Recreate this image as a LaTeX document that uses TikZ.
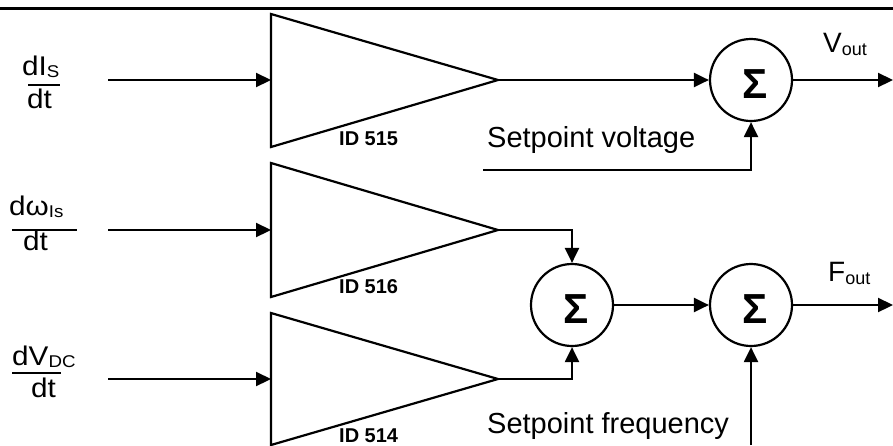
\documentclass[tikz,border=0pt]{standalone}
\usepackage{fontspec}
\usepackage{graphicx}
\setmainfont{Liberation Sans}
\usetikzlibrary{arrows.meta}
\newcommand\fsz[1]{\fontsize{#1}{#1}\selectfont}
\newcommand\hstr[1]{\scalebox{1.1}[1]{#1}}
\newcommand\sbs[1]{\raisebox{-2pt}{\fsz{17}#1}}
\newcommand\osb[1]{\raisebox{-3pt}{\fsz{18}#1}}
\begin{document}
\begin{tikzpicture}[x=1pt,y=-1pt,
  wire/.style={line width=2.2pt},
  arr/.style={wire,-{Triangle[length=15pt,width=14pt]}},
  sumnode/.style={circle,draw,line width=2.2pt,minimum size=82pt,inner sep=0pt},
  sigma/.style={font=\fsz{42}\bfseries,inner sep=0pt},
  txt/.style={inner sep=0pt,anchor=base west,font=\fsz{29}},
  outtxt/.style={inner sep=0pt,anchor=base west,font=\fsz{28}},
  idtxt/.style={inner sep=0pt,anchor=base west,font=\fsz{20}\bfseries},
  frtxt/.style={inner sep=0pt,anchor=base west,font=\fsz{27}},
  fbar/.style={line width=1.4pt},
  amp/.style={line width=2.2pt,line join=miter}]
\useasboundingbox (0,0) rectangle (893,445);

% top rule
\draw[line width=3pt] (0,8) -- (893,8);

% amplifier blocks
\draw[amp] (271,14) -- (498,80) -- (271,147) -- cycle;
\draw[amp] (271,163) -- (498,230) -- (271,297) -- cycle;
\draw[amp] (271,313) -- (498,379) -- (271,445) -- cycle;
\coordinate (t1w) at (271,80);  \coordinate (t1e) at (498,80);
\coordinate (t2w) at (271,230); \coordinate (t2e) at (498,230);
\coordinate (t3w) at (271,379); \coordinate (t3e) at (498,379);

\node[idtxt] (id1) at (339,145) {ID 515};
\node[idtxt] (id2) at (339,293) {ID 516};
\node[idtxt] (id3) at (339,442) {ID 514};

% inputs
\coordinate (in1) at (108,80);
\coordinate (in2) at (108,230);
\coordinate (in3) at (108,379);
\draw[arr] (in1) -- (t1w);
\draw[arr] (in2) -- (t2w);
\draw[arr] (in3) -- (t3w);

% fractions
\node[frtxt] (n1) at (22,75) {\hstr{dI\sbs{S}}};
\node[frtxt] (d1) at (27,108) {\hstr{dt}};
\draw[fbar] (28,85) -- (60,85);
\node[frtxt] (n2) at (9,215) {\hstr{dω\sbs{Is}}};
\node[frtxt] (d2) at (23,250) {\hstr{dt}};
\draw[fbar] (12,230) -- (77,230);
\node[frtxt] (n3) at (12,365) {\hstr{dV\sbs{DC}}};
\node[frtxt] (d3) at (31,397) {\hstr{dt}};
\draw[fbar] (12,373) -- (61,373);

% summing junctions
\node[sumnode] (c1) at (751,80) {};
\node[sumnode] (c2) at (572,305) {};
\node[sumnode] (c3) at (751,305) {};
\node[sigma] (s1) at (755,84) {Σ};
\node[sigma] (s2) at (576,309) {Σ};
\node[sigma] (s3) at (755,309) {Σ};

% outputs and setpoints
\coordinate (vout) at (893,80);
\coordinate (fout) at (893,305);
\coordinate (spv) at (483,170);
\coordinate (spf) at (751,445);

\draw[arr] (t1e) -- (c1);
\draw[arr] (c1) -- (vout);
\draw[arr] (spv) -| (c1.south);
\draw[arr] (t2e) -| (c2.north);
\draw[arr] (t3e) -| (c2.south);
\draw[arr] (c2) -- (c3);
\draw[arr] (c3) -- (fout);
\draw[arr] (spf) -- (c3.south);

\node[txt] (lspv) at (487,147) {Setpoint voltage};
\node[txt] (lspf) at (487,433) {Setpoint frequency};
\node[outtxt] (lv) at (823,52) {V\osb{out}};
\node[outtxt] (lf) at (828,281) {F\osb{out}};
\end{tikzpicture}
\end{document}
